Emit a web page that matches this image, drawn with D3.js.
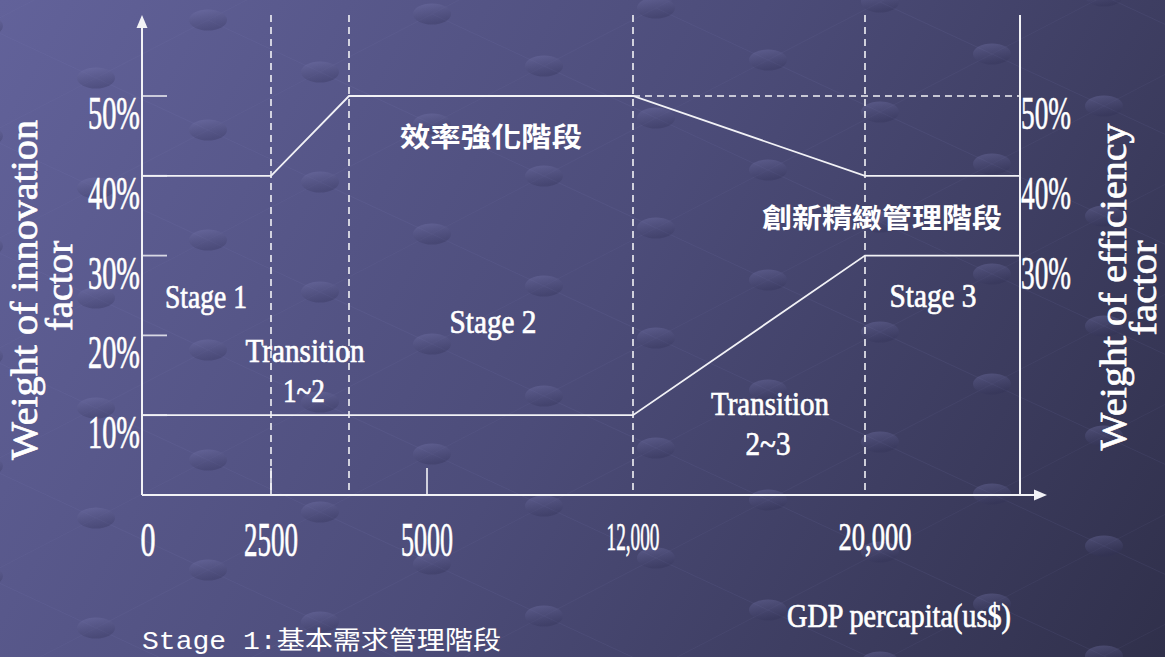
<!DOCTYPE html>
<html><head><meta charset="utf-8">
<script src="https://cdn.jsdelivr.net/npm/d3@7"></script>
<style>html,body{margin:0;padding:0;background:#4a4a75;}svg{display:block;}</style>
</head><body>
<script>
// ---- data ----
const xTickValues = [0, 2500, 5000, 12000, 20000];
const xTickLabels = ["0", "2500", "5000", "12,000", "20,000"];
const stageBoundaries = [2500, 3750, 12000, 20000];
const minorTicks = [2500, 5000];
const yTickValues = [0.1, 0.2, 0.3, 0.4, 0.5];
const yTickLabels = ["10%", "20%", "30%", "40%", "50%"];
const rightTickValues = [0.3, 0.4, 0.5];
const rightTickLabels = ["30%", "40%", "50%"];
const innovationGdp = [0, 2500, 3750, 12000, 20000, 25000];
const innovationWeight = [0.4, 0.4, 0.5, 0.5, 0.4, 0.4];
const efficiencyGdp = [0, 12000, 20000, 25000];
const efficiencyWeight = [0.1, 0.1, 0.3, 0.3];
const referenceGdp = [12000, 25000];
const referenceWeight = [0.5, 0.5];

const W = 1165, H = 657;
const svg = d3.select("body").append("svg").attr("width", W).attr("height", H);
const defs = svg.append("defs");
const bg = defs.append("linearGradient").attr("id","bg").attr("gradientUnits","userSpaceOnUse")
  .attr("x1",0).attr("y1",0).attr("x2",W).attr("y2",H);
bg.append("stop").attr("offset","0").attr("stop-color","#62629a");
bg.append("stop").attr("offset","0.5").attr("stop-color","#4c4c79");
bg.append("stop").attr("offset","1").attr("stop-color","#30304b");
const dg = defs.append("linearGradient").attr("id","dot").attr("x1","0").attr("y1","0").attr("x2","0.3").attr("y2","1");
dg.append("stop").attr("offset","0").attr("stop-color","#8080b8").attr("stop-opacity",0.35);
dg.append("stop").attr("offset","1").attr("stop-color","#303055").attr("stop-opacity",0.3);
svg.append("rect").attr("width",W).attr("height",H).attr("fill","url(#bg)");

// decorative background dots (template pattern)
const deco = svg.append("g");
const lattice = [];
for (let i = -8; i <= 12; i++) for (let j = -8; j <= 12; j++) {
  const px = 208 + i*112 + j*112, py = 460 + i*52 - j*58;
  if (px > -40 && px < W+40 && py > -30 && py < H+30) lattice.push([px, py]);
}
deco.selectAll("line").data(lattice).join("line")
  .attr("x1",d=>d[0]).attr("y1",d=>d[1]).attr("x2",d=>d[0]+112).attr("y2",d=>d[1]+52)
  .attr("stroke","#8888c0").attr("stroke-opacity",0.1).attr("stroke-width",1);
deco.selectAll("line.b").data(lattice).join("line").attr("class","b")
  .attr("x1",d=>d[0]).attr("y1",d=>d[1]).attr("x2",d=>d[0]+112).attr("y2",d=>d[1]-58)
  .attr("stroke","#8888c0").attr("stroke-opacity",0.08).attr("stroke-width",1);
deco.selectAll("ellipse").data(lattice).join("ellipse")
  .attr("cx",d=>d[0]).attr("cy",d=>d[1]).attr("rx",19).attr("ry",10.5).attr("fill","url(#dot)");

// ---- scales ----
const x = d3.scaleLinear().domain([0, 2500, 5000, 12000, 20000, 25000])
  .range([142, 271, 427, 633, 865, 1020]);
const y = d3.scaleLinear().domain([0, 0.5]).range([495, 96]);
const x0 = x(0), x1 = x(25000), yTop = 15, yBase = y(0);

const white = "#f2f2f6";
const g = svg.append("g");

// dashed stage boundaries
g.selectAll("line.stage").data(stageBoundaries).join("line").attr("class","stage")
  .attr("x1",d=>x(d)).attr("x2",d=>x(d)).attr("y1",yTop).attr("y2",yBase)
  .attr("stroke",white).attr("stroke-width",1.6).attr("stroke-dasharray","7,5");
// short solid ticks on x axis
g.selectAll("line.minor").data(minorTicks).join("line").attr("class","minor")
  .attr("x1",d=>x(d)).attr("x2",d=>x(d)).attr("y1",yBase-27).attr("y2",yBase)
  .attr("stroke",white).attr("stroke-width",1.6);
// left tick marks
g.selectAll("line.yt").data(yTickValues).join("line").attr("class","yt")
  .attr("x1",x0).attr("x2",x0+25).attr("y1",d=>y(d)).attr("y2",d=>y(d))
  .attr("stroke","#d8d8e4").attr("stroke-width",1.8);

// series
const line = d3.line().x(d=>x(d[0])).y(d=>y(d[1]));
g.append("path").datum(referenceGdp.map((v,i)=>[v, referenceWeight[i]])).attr("d",line)
  .attr("fill","none").attr("stroke",white).attr("stroke-width",1.6).attr("stroke-dasharray","7,5");
g.append("path").datum(innovationGdp.map((v,i)=>[v, innovationWeight[i]])).attr("d",line)
  .attr("fill","none").attr("stroke",white).attr("stroke-width",1.8);
g.append("path").datum(efficiencyGdp.map((v,i)=>[v, efficiencyWeight[i]])).attr("d",line)
  .attr("fill","none").attr("stroke",white).attr("stroke-width",1.8);

// axes
g.append("line").attr("x1",x0).attr("x2",x0).attr("y1",yTop+11).attr("y2",yBase)
  .attr("stroke",white).attr("stroke-width",2);
g.append("polygon").attr("points",`${x0},${yTop} ${x0-5.5},${yTop+13} ${x0+5.5},${yTop+13}`).attr("fill",white);
g.append("line").attr("x1",x0).attr("x2",x1+15).attr("y1",yBase).attr("y2",yBase)
  .attr("stroke",white).attr("stroke-width",2);
g.append("polygon").attr("points",`${x1+27},${yBase} ${x1+14},${yBase-5.5} ${x1+14},${yBase+5.5}`).attr("fill",white);
g.append("line").attr("x1",x1).attr("x2",x1).attr("y1",yTop).attr("y2",yBase)
  .attr("stroke",white).attr("stroke-width",2);

// text helpers
const serif = "'Liberation Serif','Times New Roman',serif";
function txt(parent, s, px, py, size, len, anchor, opts={}) {
  const t = parent.append("text").attr("x",px).attr("y",py).text(s)
    .attr("font-family",opts.family||serif).attr("font-size",size)
    .attr("fill","#ffffff").attr("text-anchor",anchor||"middle");
  if (len) t.attr("textLength",len).attr("lengthAdjust","spacingAndGlyphs");
  if (opts.weight) t.attr("font-weight",opts.weight);
  if (opts.transform) t.attr("transform",opts.transform);
  if (!opts.family) t.attr("stroke","#ffffff").attr("stroke-width",0.7);
  return t;
}

// y tick labels
yTickValues.forEach((v,i)=> txt(g, yTickLabels[i], x0-2, y(v)+33, 46, 52, "end"));
rightTickValues.forEach((v,i)=> txt(g, rightTickLabels[i], x1+1, y(v)+33, 46, 50, "start"));

// x tick labels
const xLabSize = [48, 48, 48, 40, 40];
const xLabLen = [15, 54, 52, 53, 73];
const xLabNudge = [6, 0, 0, 0, 10];
xTickValues.forEach((v,i)=> txt(g, xTickLabels[i], x(v)+xLabNudge[i], i<3?556:550, xLabSize[i], xLabLen[i], "middle"));

// axis titles
txt(g, "Weight of innovation", 37, 290, 37, 340, "middle", {transform:"rotate(-90,37,290)"});
txt(g, "factor", 72, 286, 37, 90, "middle", {transform:"rotate(-90,72,286)"});
txt(g, "Weight of efficiency", 1126, 287, 37, 327, "middle", {transform:"rotate(-90,1126,287)"});
txt(g, "factor", 1156, 288, 37, 95, "middle", {transform:"rotate(-90,1156,288)"});
txt(g, "GDP percapita(us$)", 899, 627, 33, 224, "middle");

// stage annotations
txt(g, "Stage 1", 206, 308, 34, 82, "middle");
txt(g, "Transition", 305, 362, 34, 119, "middle");
txt(g, "1~2", 304, 402, 34, 42, "middle");
txt(g, "Stage 2", 493, 333, 34, 87, "middle");
txt(g, "Transition", 770, 415, 34, 118, "middle");
txt(g, "2~3", 768, 455, 34, 45, "middle");
txt(g, "Stage 3", 933, 307, 34, 87, "middle");

const cjk = "'Noto Sans CJK TC','Noto Sans CJK SC',sans-serif";
txt(g, "效率強化階段", 491, 147, 27, 182, "middle", {family:cjk, weight:700});
txt(g, "創新精緻管理階段", 882, 228, 27, 240, "middle", {family:cjk, weight:700});
txt(g, "Stage 1:基本需求管理階段", 142, 649, 25, 359, "start", {family:"'Liberation Mono','Noto Sans CJK TC',monospace"});
</script>
</body></html>
